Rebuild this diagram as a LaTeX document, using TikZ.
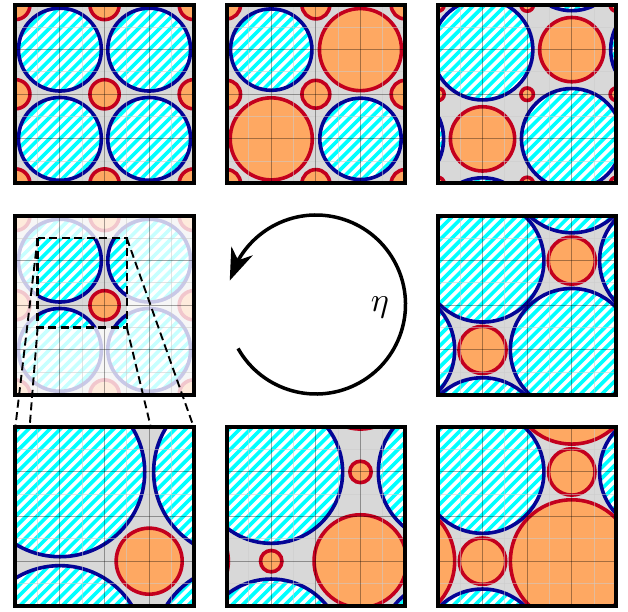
\documentclass[tikz,border=0pt]{standalone}
\usetikzlibrary{arrows.meta,bending}
\definecolor{bgray}{RGB}{216,216,216}
\definecolor{bblue}{RGB}{5,5,150}
\definecolor{rred}{RGB}{195,0,30}
\definecolor{oorange}{RGB}{254,168,98}
\definecolor{ccyan}{RGB}{0,255,255}
\tikzset{
  hatchline/.style={draw=ccyan, line width=3.6pt},
  bring/.style={draw=bblue, line width=3.6pt},
  ocirc/.style={fill=oorange, draw=rred, line width=3.6pt},
  gridmaj/.style={draw=black, draw opacity=0.35, line width=1.1pt},
  gridmin/.style={draw=gray!40, draw opacity=0.55, line width=1pt},
  frame/.style={draw=black, line width=4pt},
  panelat/.style args={#1/#2}{shift={(#1pt,#2pt)}, x=178.5pt, y=-178.5pt},
  zoomline/.style={draw=black, line width=1.9pt, dash pattern=on 8pt off 4.5pt},
  zoomrect/.style={draw=black, line width=2.3pt, dash pattern=on 8pt off 4.5pt},
}
% hatched blue disc
\newcommand\myblue[3]{%
  \begin{scope}
    \clip ({#1},{#2}) circle[radius=#3];
    \fill[white] ({#1},{#2}) circle[radius=#3];
    \foreach \k in {-17,...,17}{\draw[hatchline] ({#1+\k*0.0297-1},{#2+\k*0.0297+1}) -- ({#1+\k*0.0297+1},{#2+\k*0.0297-1});}
  \end{scope}
  \draw[bring] ({#1},{#2}) circle[radius=#3];}
\newcommand\mylattB[3]{\foreach \dx in {-1,0,1}{\foreach \dy in {-1,0,1}{\myblue{#1+\dx}{#2+\dy}{#3}}}}
\newcommand\mylatt[4]{\foreach \dx in {-1,0,1}{\foreach \dy in {-1,0,1}{\path[#1] ({#2+\dx},{#3+\dy}) circle[radius=#4];}}}
\newcommand\mygrid{%
  \foreach \t in {0.125,0.375,0.625,0.875}{\draw[gridmin] (\t,0) -- (\t,1); \draw[gridmin] (0,\t) -- (1,\t);}%
  \foreach \t in {0.25,0.5,0.75}{\draw[gridmaj] (\t,0) -- (\t,1); \draw[gridmaj] (0,\t) -- (1,\t);}%
}
\newcommand\mybg{\fill[bgray] (0,0) rectangle (1,1);}
\newcommand\myhalf[1]{\mylatt{ocirc}{0}{0}{#1}\mylatt{ocirc}{0.5}{0}{#1}\mylatt{ocirc}{0}{0.5}{#1}\mylatt{ocirc}{0.5}{0.5}{#1}}
\newcommand\pOne{\mybg
  \mylattB{0.25}{0.25}{0.232}\mylattB{0.75}{0.25}{0.232}
  \mylattB{0.25}{0.75}{0.232}\mylattB{0.75}{0.75}{0.232}
  \myhalf{0.082}}
\newcommand\pTwo{\mybg
  \mylattB{0.25}{0.25}{0.228}\mylattB{0.75}{0.75}{0.228}
  \mylatt{ocirc}{0.75}{0.25}{0.23}\mylatt{ocirc}{0.25}{0.75}{0.23}
  \myhalf{0.078}}
\newcommand\pThree{\mybg
  \mylattB{0.25}{0.25}{0.282}\mylattB{0.75}{0.75}{0.282}
  \mylatt{ocirc}{0.75}{0.25}{0.18}\mylatt{ocirc}{0.25}{0.75}{0.18}
  \myhalf{0.035}}
\newcommand\pSix{\mybg
  \mylattB{0.25}{0.25}{0.344}\mylattB{0.75}{0.75}{0.344}
  \mylatt{ocirc}{0.75}{0.25}{0.132}\mylatt{ocirc}{0.25}{0.75}{0.132}}
\newcommand\pNine{\mybg
  \mylattB{0.25}{0.25}{0.344}\mylatt{ocirc}{0.75}{0.75}{0.344}
  \mylatt{ocirc}{0.75}{0.25}{0.13}\mylatt{ocirc}{0.25}{0.75}{0.13}}
\newcommand\pEight{\mybg
  \mylattB{0.25}{0.25}{0.40}\mylatt{ocirc}{0.75}{0.75}{0.26}
  \mylatt{ocirc}{0.75}{0.25}{0.06}\mylatt{ocirc}{0.25}{0.75}{0.06}}
\newcommand\pSeven{\mybg
  \mylattB{0.25}{0.25}{0.475}\mylatt{ocirc}{0.75}{0.75}{0.185}}
\newcommand\mypanel[1]{\begin{scope}\clip (0,0) rectangle (1,1); #1 \mygrid\end{scope}\draw[frame] (0,0) rectangle (1,1);}
\begin{document}
\begin{tikzpicture}[x=1pt,y=1pt]
\useasboundingbox (0,0) rectangle (628,611);
% top row
\begin{scope}[panelat={15.3/606}]\mypanel{\pOne}\end{scope}
\begin{scope}[panelat={226.6/606}]\mypanel{\pTwo}\end{scope}
\begin{scope}[panelat={437.9/606}]\mypanel{\pThree}\end{scope}
% middle row
\begin{scope}[panelat={15.3/395}]
  \begin{scope}
    \clip (0,0) rectangle (1,1);
    \pOne
    \fill[white, opacity=0.78] (0,0) rectangle (1,1);
    \begin{scope}\clip (0.125,0.125) rectangle (0.625,0.625); \pOne\end{scope}
    \mygrid
  \end{scope}
  \draw[frame] (0,0) rectangle (1,1);
  \coordinate (wtl) at (0.125,0.125);
  \coordinate (wtr) at (0.625,0.125);
  \coordinate (wbl) at (0.125,0.625);
  \coordinate (wbr) at (0.625,0.625);
  \draw[zoomrect] (wtl) rectangle (wbr);
\end{scope}
\begin{scope}[panelat={437.9/395}]\mypanel{\pSix}\end{scope}
% zoom connectors
\begin{scope}[panelat={15.3/183.7}]
  \coordinate (ztl) at (0,0);
  \coordinate (ztr) at (1,0);
  \coordinate (zbl) at (0,1);
  \coordinate (zbr) at (1,1);
\end{scope}
\draw[zoomline] (wtl) -- (ztl);
\draw[zoomline] (wtr) -- (ztr);
\draw[zoomline] (wbl) -- (zbl);
\draw[zoomline] (wbr) -- (zbr);
% bottom row
\begin{scope}[panelat={15.3/183.7}]\mypanel{\pSeven}\end{scope}
\begin{scope}[panelat={226.6/183.7}]\mypanel{\pEight}\end{scope}
\begin{scope}[panelat={437.9/183.7}]\mypanel{\pNine}\end{scope}
% cycle arrow
\coordinate (acenter) at (316,306.5);
\draw[line width=3.5pt, -{Stealth[length=32pt,width=23pt,inset=10pt,flex]}]
  ([shift={(209.4:89.5)}]acenter) arc[start angle=209.4, end angle=524.5, radius=89.5];
\node[scale=3.4, inner sep=0pt] (eta) at (380,304) {$\eta$};
\end{tikzpicture}
\end{document}
